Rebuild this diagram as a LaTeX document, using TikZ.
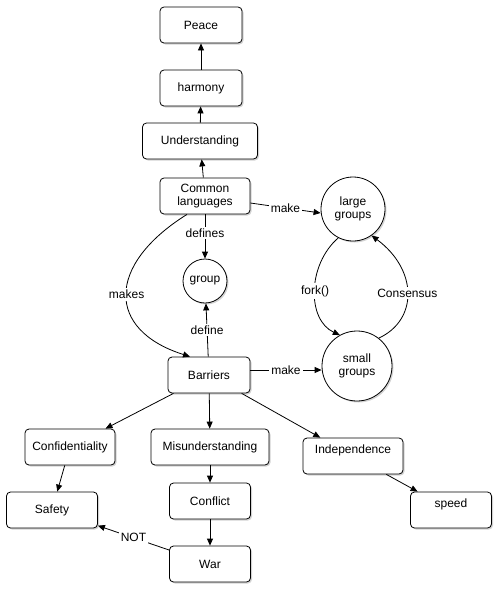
\documentclass[tikz,border=0pt]{standalone}
\usepackage{fontspec}
\setmainfont{Liberation Sans}
\usetikzlibrary{arrows.meta,shadows}
\begin{document}
\begin{tikzpicture}[x=1pt,y=-1pt,>={Triangle[length=7pt,width=6pt]},
    font=\fontsize{12}{13}\selectfont,
    shade/.style={drop shadow={shadow xshift=1.5pt,shadow yshift=-1.5pt,opacity=.35}},
    box/.style={draw,rounded corners=4pt,fill=white,minimum width=82pt,minimum height=36pt,shade},
    blob/.style={draw,circle,fill=white,align=center,inner sep=0pt,shade},
    lbl/.style={fill=white,inner sep=2pt},
    every path/.style={line width=.8pt}]
  \useasboundingbox (0,0) rectangle (500,590);
  % top chain
  \node[box](Peace) at (201,25){Peace};
  \node[box](Harm) at (201,88){harmony};
  \node[box,minimum width=115pt](Und) at (200,141){Understanding};
  \node[box,minimum width=90pt,align=center](Com) at (205,196){Common\\languages};
  % groups
  \node[blob,minimum size=44pt](Grp) at (205,281){group};
  \node[blob,minimum size=64pt](Large) at (353,209){large\\groups};
  \node[blob,minimum size=70pt](Small) at (357,366){small\\groups};
  \node[box](Bar) at (209,375){Barriers};
  % bottom
  \node[box,minimum width=90pt](Conf) at (70,447){Confidentiality};
  \node[box,minimum width=118pt](Mis) at (210,447){Misunderstanding};
  \node[box,minimum width=100pt,text depth=14pt](Ind) at (353,456){Independence};
  \node[box,minimum width=91pt](Safe) at (52,510){Safety};
  \node[box,minimum width=81pt](Confl) at (210,501){Conflict};
  \node[box,minimum width=81pt](War) at (210,564){War};
  \node[box,minimum width=81pt,text depth=14pt](Speed) at (451,510){speed};
  % plain arrows
  \foreach \a/\b in {Harm/Peace, Und/Harm, Com/Und, Bar/Conf, Bar/Mis, Bar/Ind,
      Conf/Safe, Mis/Confl, Confl/War, Ind/Speed}
    \draw[->](\a)--(\b);
  % labelled arrows
  \draw[->](Com)--node[lbl,pos=.42]{defines}(Grp);
  \draw[->](Bar)--node[lbl]{define}(Grp);
  \draw[->](War)--node[lbl]{NOT}(Safe);
  \draw[->]([yshift=-7pt]Com.east)--node[lbl]{make}([yshift=-4pt]Large.west);
  \draw[->]([yshift=5pt]Bar.east)--node[lbl]{make}([yshift=-4pt]Small.west);
  \draw[->]([xshift=-18pt]Com.south) .. controls (106,265) and (106,330) ..
    node[lbl]{makes}([xshift=-19pt]Bar.north);
  \draw[->](Large.243) .. controls (307,265) and (307,320) .. node[lbl]{fork()}(Small.119);
  \draw[->](Small.52) .. controls (418,320) and (418,270) .. node[lbl]{Consensus}(Large.305);
\end{tikzpicture}
\end{document}
